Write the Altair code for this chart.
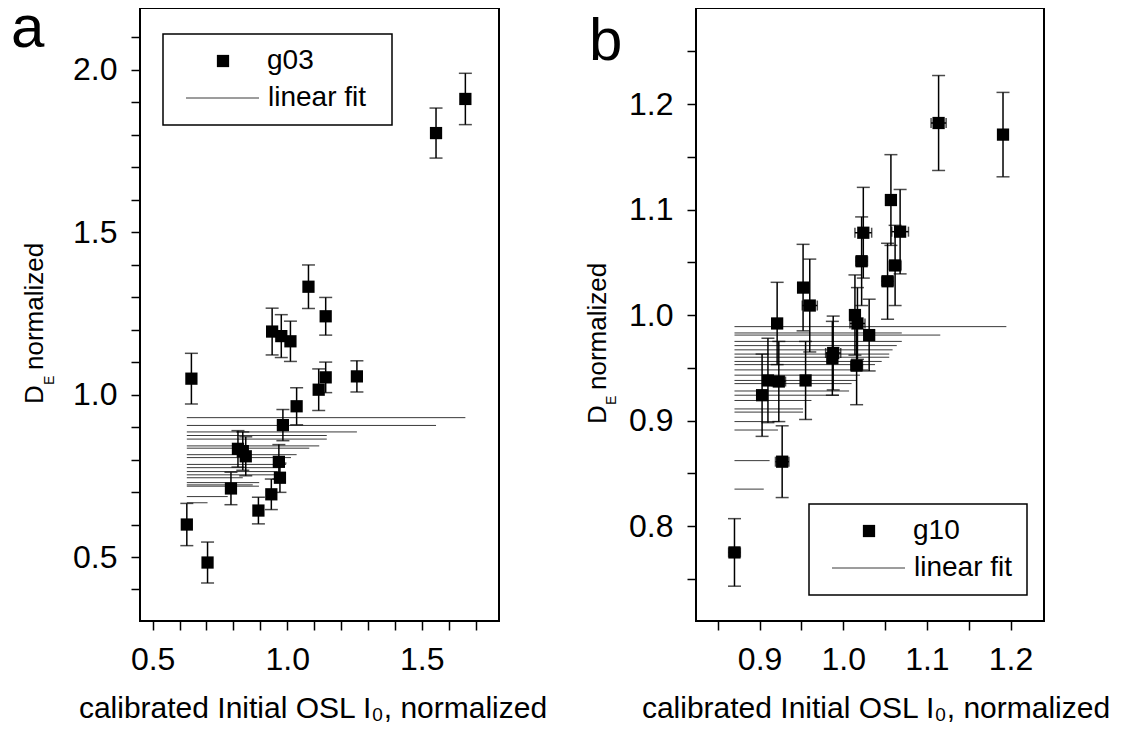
import altair as alt
import pandas as pd

FONT = "Liberation Sans"

# ---------------- panel a : g03 ----------------
a_x = [0.627, 0.644, 0.704, 0.791, 0.817, 0.835, 0.846, 0.893, 0.941, 0.944, 0.969, 0.973,
       0.978, 0.984, 1.012, 1.035, 1.079, 1.117, 1.143, 1.143, 1.259, 1.553, 1.662]
a_y = [0.600, 1.049, 0.483, 0.711, 0.833, 0.826, 0.810, 0.643, 0.693, 1.194, 0.793, 0.744,
       1.180, 0.906, 1.164, 0.964, 1.332, 1.015, 1.241, 1.053, 1.056, 1.805, 1.910]
a_err = [0.065, 0.078, 0.063, 0.050, 0.056, 0.059, 0.060, 0.041, 0.047, 0.072, 0.053, 0.045,
         0.066, 0.048, 0.062, 0.057, 0.067, 0.064, 0.058, 0.047, 0.048, 0.077, 0.079]
a_fit_y = [0.929, 0.905, 0.885, 0.874, 0.863, 0.842, 0.835, 0.815, 0.806, 0.785, 0.775, 0.763,
           0.753, 0.744, 0.729, 0.722, 0.718, 0.686, 0.667]
a_fit_xend = [1.662, 1.553, 1.259, 1.147, 1.147, 1.119, 1.082, 1.035, 1.014, 0.996, 0.977, 0.965,
              0.965, 0.835, 0.896, 0.872, 0.895, 0.779, 0.704]

# ---------------- panel b : g10 ----------------
b_x = [0.870, 0.903, 0.910, 0.921, 0.923, 0.927, 0.952, 0.955, 0.960, 0.987, 0.988, 1.014,
       1.016, 1.017, 1.022, 1.024, 1.031, 1.053, 1.057, 1.062, 1.068, 1.114, 1.191]
b_y = [0.775, 0.924, 0.938, 0.992, 0.937, 0.861, 1.026, 0.938, 1.009, 0.959, 0.964, 1.000,
       0.952, 0.992, 1.051, 1.078, 0.981, 1.032, 1.109, 1.047, 1.079, 1.182, 1.171]
b_yerr = [0.032, 0.039, 0.040, 0.039, 0.038, 0.034, 0.041, 0.037, 0.044, 0.035, 0.035, 0.038,
          0.037, 0.034, 0.042, 0.043, 0.034, 0.036, 0.043, 0.038, 0.040, 0.045, 0.040]
b_xerr = [0.007, 0.004, 0.005, 0.004, 0.008, 0.008, 0.005, 0.005, 0.009, 0.006, 0.009, 0.006,
          0.007, 0.009, 0.007, 0.010, 0.004, 0.007, 0.004, 0.007, 0.010, 0.009, 0.004]
b_fit_y = [0.989, 0.983, 0.981, 0.975, 0.971, 0.967, 0.963, 0.960, 0.956, 0.953, 0.948, 0.943,
           0.938, 0.935, 0.928, 0.924, 0.919, 0.911, 0.908, 0.899, 0.891, 0.862, 0.835]
b_fit_xend = [1.195, 1.070, 1.116, 1.070, 1.064, 1.059, 1.055, 1.055, 1.046, 1.038, 1.030, 1.020,
              1.016, 1.010, 1.007, 0.995, 0.962, 0.952, 0.952, 0.924, 0.922, 0.912, 0.905]

X_TITLE = "calibrated Initial OSL I\u2080, normalized"


def axis(values, mult):
    return alt.Axis(
        values=values, title=None, domain=False, grid=False,
        ticks=True, tickColor="black", tickWidth=1.5, tickSize=9,
        labelFont=FONT, labelFontSize=32, labelColor="black", labelPadding=14,
        labelOverlap=False, labelFlush=False, labelBound=False,
        labelExpr=f"abs(datum.value*{mult} - round(datum.value*{mult})) < 0.001 ? format(datum.value, '.1f') : ''",
    )


def one():
    return pd.DataFrame({"k": [0]})


def panel(xs, ys, yerr, xerr, fit_y, fit_xend, xdom, ydom, xt, yt, xm, ym,
          letter, letter_xy, series, leg, dpos, title_x, W, H):
    pts = pd.DataFrame({"x": xs, "y": ys,
                        "lo": [v - e for v, e in zip(ys, yerr)],
                        "hi": [v + e for v, e in zip(ys, yerr)]})
    fit = pd.DataFrame({"x0": [min(xs)] * len(fit_y), "xend": fit_xend, "fy": fit_y})
    X = lambda f: alt.X(f, type="quantitative", scale=alt.Scale(domain=xdom, nice=False, zero=False),
                        axis=axis(xt, xm))
    Y = lambda f: alt.Y(f, type="quantitative", scale=alt.Scale(domain=ydom, nice=False, zero=False),
                        axis=axis(yt, ym))

    layers = []
    layers.append(alt.Chart(fit).mark_rule(color="#3a3a3a", strokeWidth=1).encode(
        x=X("x0"), x2="xend", y=Y("fy")))
    layers.append(alt.Chart(pts).mark_rule(color="black", strokeWidth=1.5).encode(
        x=X("x"), y=Y("lo"), y2="hi"))
    layers.append(alt.Chart(pts).mark_tick(orient="horizontal", size=13, thickness=1.5, color="black").encode(
        x=X("x"), y=Y("lo")))
    layers.append(alt.Chart(pts).mark_tick(orient="horizontal", size=13, thickness=1.5, color="black").encode(
        x=X("x"), y=Y("hi")))
    if xerr is not None:
        xe = pd.DataFrame({"y": ys,
                           "xlo": [v - e for v, e in zip(xs, xerr)],
                           "xhi": [v + e for v, e in zip(xs, xerr)]})
        layers.append(alt.Chart(xe).mark_rule(color="black", strokeWidth=1.5).encode(
            x=X("xlo"), x2="xhi", y=Y("y")))
        layers.append(alt.Chart(xe).mark_tick(orient="vertical", size=10, thickness=1.5, color="black").encode(
            x=X("xlo"), y=Y("y")))
        layers.append(alt.Chart(xe).mark_tick(orient="vertical", size=10, thickness=1.5, color="black").encode(
            x=X("xhi"), y=Y("y")))
    layers.append(alt.Chart(pts).mark_point(shape="square", filled=True, size=150, color="black",
                                            opacity=1).encode(x=X("x"), y=Y("y")))

    # legend box
    bx0, by0, bx1, by1 = leg
    layers.append(alt.Chart(one()).mark_rect(fill="white", stroke="black", strokeWidth=1.5).encode(
        x=alt.value(bx0), x2=alt.value(bx1), y=alt.value(by0), y2=alt.value(by1)))
    layers.append(alt.Chart(one()).mark_point(shape="square", filled=True, size=150, color="black",
                                              opacity=1).encode(x=alt.value(bx0 + 60), y=alt.value(by0 + 27)))
    layers.append(alt.Chart(one()).mark_text(text=series, font=FONT, fontSize=28, align="left",
                                             baseline="middle", color="black").encode(
        x=alt.value(bx0 + 104), y=alt.value(by0 + 27)))
    layers.append(alt.Chart(one()).mark_rule(color="#3a3a3a", strokeWidth=1).encode(
        x=alt.value(bx0 + 23), x2=alt.value(bx0 + 96), y=alt.value(by0 + 64)))
    layers.append(alt.Chart(one()).mark_text(text="linear fit", font=FONT, fontSize=28, align="left",
                                             baseline="middle", color="black").encode(
        x=alt.value(bx0 + 105), y=alt.value(by0 + 64)))

    # panel letter
    layers.append(alt.Chart(one()).mark_text(text=letter, font=FONT, fontSize=60, align="left",
                                             baseline="alphabetic", color="black").encode(
        x=alt.value(letter_xy[0]), y=alt.value(letter_xy[1])))

    # y title: D_E normalized (rotated)
    dx, dy, ex = dpos
    layers.append(alt.Chart(one()).mark_text(text="D", font=FONT, fontSize=26, angle=270, align="left",
                                             baseline="alphabetic", color="black").encode(
        x=alt.value(dx), y=alt.value(dy)))
    layers.append(alt.Chart(one()).mark_text(text="E", font=FONT, fontSize=14, angle=270, align="left",
                                             baseline="alphabetic", color="black").encode(
        x=alt.value(ex), y=alt.value(dy - 19)))
    layers.append(alt.Chart(one()).mark_text(text="normalized", font=FONT, fontSize=26, angle=270,
                                             align="left", baseline="alphabetic", color="black").encode(
        x=alt.value(dx), y=alt.value(dy - 34)))

    # x title
    layers.append(alt.Chart(one()).mark_text(text=X_TITLE, font=FONT, fontSize=30, align="center",
                                             baseline="alphabetic", color="black").encode(
        x=alt.value(title_x), y=alt.value(H + 97)))

    return alt.layer(*layers).properties(width=W, height=H)


xt_a = [round(0.5 + 0.1 * i, 2) for i in range(13)]
yt_a = [round(0.4 + 0.1 * i, 2) for i in range(18)]
xt_b = [round(0.85 + 0.05 * i, 2) for i in range(8)]
yt_b = [round(0.75 + 0.05 * i, 2) for i in range(11)]

pa = panel(a_x, a_y, a_err, None, a_fit_y, a_fit_xend, [0.453, 1.787], [0.303, 2.19],
           xt_a, yt_a, 2, 2, "a", (-129, 39), "g03", (23, 26, 252, 117), (-97, 396, -86), 173, 359, 613)
pb = panel(b_x, b_y, b_yerr, b_xerr, b_fit_y, b_fit_xend, [0.824, 1.24], [0.71, 1.291],
           xt_b, yt_b, 10, 10, "b", (-107, 52), "g10", (113, 496, 331, 587), (-90, 416, -80), 180, 348, 613)

chart = alt.hconcat(pa, pb, spacing=197, bounds="flush").properties(
    padding={"left": 2, "top": -10, "right": 0, "bottom": 0},
    background="white",
).configure_view(stroke="black", strokeWidth=2)

chart.save("out.html", embed_options={"renderer": "svg", "actions": False})
